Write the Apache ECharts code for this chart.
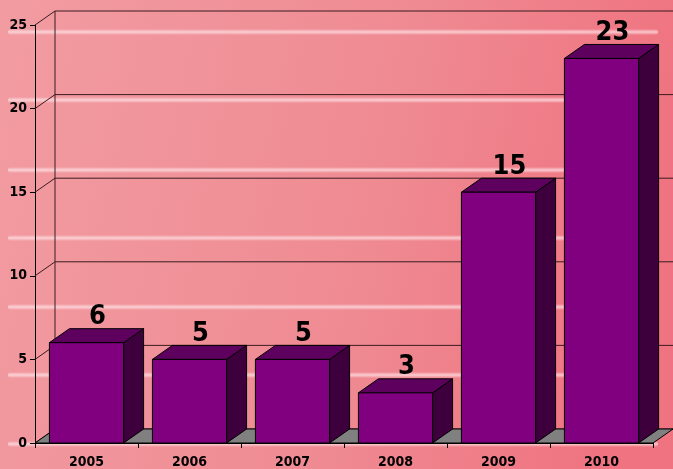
<!DOCTYPE html>
<html>
<head>
<meta charset="utf-8">
<script src="https://cdn.jsdelivr.net/npm/echarts@6/dist/echarts.min.js"></script>
<style>
  html, body { margin: 0; padding: 0; }
  #chart { width: 673px; height: 469px; }
</style>
</head>
<body>
<div id="chart"></div>
<script>
  var years = ['2005', '2006', '2007', '2008', '2009', '2010']
  var counts = [6, 5, 5, 3, 15, 23]
  var yTicks = [0, 5, 10, 15, 20, 25]

  // 3D depth of the walls and bars (px)
  var DX = 20, DY = -14
  var font = 'DejaVu Sans Condensed'

  var chart = echarts.init(document.getElementById('chart'))

  // pale streaks on the background
  var streakY = [32, 100, 170, 238, 307, 375, 444]
  var streaks = streakY.map(function (y) {
    return {
      type: 'rect', z: -10,
      shape: { x: 8, y: y - 3, width: 650, height: 6, r: 3 },
      style: {
        fill: new echarts.graphic.LinearGradient(0, 0, 0, 1, [
          { offset: 0, color: 'rgba(255,240,242,0)' },
          { offset: 0.5, color: 'rgba(255,226,230,0.75)' },
          { offset: 1, color: 'rgba(255,240,242,0)' }
        ])
      }
    }
  })

  function renderFrame(params, api) {
    var v = api.value(0)
    var band = api.size([1, 0])[0]
    var p = api.coord([0, v])
    var left = p[0] - band / 2
    var right = left + band * years.length
    var y = p[1]
    var lineStyle = { stroke: '#3a1c20', lineWidth: 1 }
    var children = [
      { type: 'line', shape: { x1: left, y1: y, x2: left + DX, y2: y + DY }, style: lineStyle },
      { type: 'line', shape: { x1: left + DX, y1: y + DY, x2: right + DX, y2: y + DY }, style: lineStyle }
    ]
    if (v === 0) {
      var top = api.coord([0, yTicks[yTicks.length - 1]])[1]
      children.push({ type: 'line', shape: { x1: left + DX, y1: y + DY, x2: left + DX, y2: top + DY }, style: lineStyle })
      children.push({
        type: 'polygon',
        shape: { points: [[left, y], [right, y], [right + DX, y + DY], [left + DX, y + DY]] },
        style: { fill: '#808080', stroke: '#000', lineWidth: 1 }
      })
    }
    return { type: 'group', children: children }
  }

  function renderBar(params, api) {
    var idx = api.value(0)
    var val = api.value(1)
    var band = api.size([1, 0])[0]
    var w = band * 0.72
    var c = api.coord([idx, val])
    var b = api.coord([idx, 0])
    var x0 = c[0] - w / 2, x1 = c[0] + w / 2
    var yt = c[1], yb = b[1]
    var edge = { stroke: '#000', lineWidth: 1 }
    return {
      type: 'group',
      children: [
        { type: 'polygon', shape: { points: [[x1, yt], [x1 + DX, yt + DY], [x1 + DX, yb + DY], [x1, yb]] },
          style: Object.assign({ fill: '#3d003d' }, edge) },
        { type: 'polygon', shape: { points: [[x0, yt], [x0 + DX, yt + DY], [x1 + DX, yt + DY], [x1, yt]] },
          style: Object.assign({ fill: '#5e005e' }, edge) },
        { type: 'rect', shape: { x: x0, y: yt, width: w, height: yb - yt },
          style: Object.assign({ fill: '#800080' }, edge) },
        { type: 'text', x: c[0] + DX / 2 + 1, y: yt + DY + 2,
          style: { text: String(val), fill: '#000', font: 'bold 27px "' + font + '"',
                   textAlign: 'center', textVerticalAlign: 'bottom' } }
      ]
    }
  }

  var option = {
    animation: false,
    backgroundColor: new echarts.graphic.LinearGradient(0, 0, 1, 0.3, [
      { offset: 0, color: '#f29ca2' },
      { offset: 0.6, color: '#ef8a92' },
      { offset: 1, color: '#ef7380' }
    ]),
    graphic: streaks,
    grid: { left: 35, right: 20, top: 25, bottom: 26 },
    xAxis: {
      type: 'category',
      data: years,
      axisLine: { lineStyle: { color: '#000', width: 1 } },
      axisTick: { show: true, length: 5, lineStyle: { color: '#000' } },
      axisLabel: { color: '#000', fontFamily: font, fontWeight: 'bold', fontSize: 14, margin: 12 },
      splitLine: { show: false }
    },
    yAxis: {
      type: 'value',
      min: 0, max: 25, interval: 5,
      axisLine: { show: true, lineStyle: { color: '#000', width: 1 } },
      axisTick: { show: true, length: 5, lineStyle: { color: '#000' } },
      axisLabel: { color: '#000', fontFamily: font, fontWeight: 'bold', fontSize: 14, margin: 8 },
      splitLine: { show: false }
    },
    series: [
      {
        type: 'custom',
        z: 1,
        clip: false,
        renderItem: renderFrame,
        encode: { y: 0 },
        data: yTicks.map(function (v) { return [v] })
      },
      {
        type: 'custom',
        z: 5,
        clip: false,
        renderItem: renderBar,
        encode: { x: 0, y: 1 },
        data: counts.map(function (v, i) { return [i, v] })
      }
    ]
  }

  chart.setOption(option)
</script>
</body>
</html>
